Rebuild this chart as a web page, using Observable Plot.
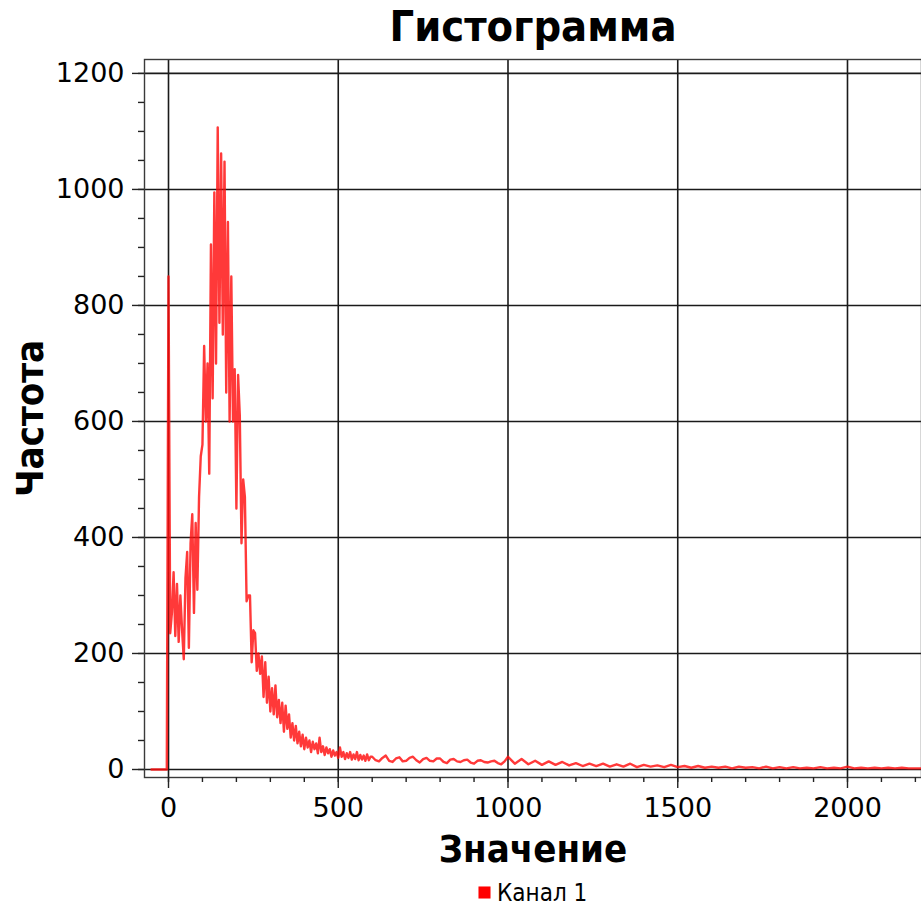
<!DOCTYPE html>
<html>
<head>
<meta charset="utf-8">
<script src="https://cdn.jsdelivr.net/npm/d3@7"></script>
<script src="https://cdn.jsdelivr.net/npm/@observablehq/plot@0.6"></script>
<style>
  html, body { margin: 0; padding: 0; background: #fff; }
  #chart svg { display: block; }
  .cond { font-stretch: condensed; }
</style>
</head>
<body>
<div id="chart"></div>
<script>
// ---- data ----
const title = "Гистограмма";
const xLabel = "Значение";
const yLabel = "Частота";
const seriesName = "Канал 1";

const xTicks = [0, 500, 1000, 1500, 2000];
const yTicks = [0, 200, 400, 600, 800, 1000, 1200];

// bins of width 5 starting at -50
const startA = -50, stepA = 5;
const countsA = [
  0,0,0,0,0,0,0,0,0,0,
  850,235,270,340,230,320,220,300,240,190,330,375,210,390,440,270,425,310,470,540,
  560,730,600,700,510,905,640,995,700,1107,770,1062,750,1048,650,944,600,850,600,690,
  450,680,610,390,500,470,290,300,300,185,240,235,170,200,165,195,125,185,115,160,
  100,140,95,145,90,120,80,115,65,110,70,95,55,80,50,75,45,65,40,60,
  35,55,38,50,30,48,35,45,28,55,30,40,25,38,28,35,22,33,24,30,
  20,38,22,30,18,28,20,30,17,26,18,30,16,25,17,24,15,26,16,22
];
// bins of width 10 starting at 600
const startB = 600, stepB = 10;
const countsB = [
  22,16,14,20,24,15,13,19,21,14,
  15,20,22,16,12,18,20,15,14,19,
  19,13,11,17,18,14,13,16,17,12,
  10,15,16,13,12,14,15,11,9,14
];
// bins of width 20 starting at 1000
const startC = 1000, stepC = 20;
const countsC = [
  22,10,18,9,15,8,14,8,13,7,
  11,6,10,6,10,5,9,5,10,4,
  8,5,7,4,8,4,6,3,6,3,
  5,3,5,2,5,3,4,2,5,2,
  4,2,4,2,3,2,4,2,3,2,
  5,2,3,2,3,2,3,2,3,2,
  2,2
];

const data = countsA.map((c, i) => ({x: startA + i * stepA, y: c}))
  .concat(countsB.map((c, i) => ({x: startB + i * stepB, y: c})))
  .concat(countsC.map((c, i) => ({x: startC + i * stepC, y: c})));

const xMinor = d3.range(0, 2201, 100);
const yMinor = d3.range(0, 1201, 50);

const W = 921, H = 908;
const condFont = "'DejaVu Sans Condensed', 'DejaVu Sans', sans-serif";
const tickFont = "'DejaVu Sans', sans-serif";
const fmt = d => String(d);

const chart = Plot.plot({
  width: W,
  height: H,
  marginLeft: 144,
  marginRight: 0,
  marginTop: 59,
  marginBottom: H - 777,
  style: {fontFamily: tickFont, background: "#fff", color: "#000"},
  x: {domain: [-70.7, 2218], label: null},
  y: {domain: [-13.8, 1224], label: null},
  marks: [
    Plot.gridX(xTicks, {stroke: "#1a1a1a", strokeOpacity: 1, strokeWidth: 1.6}),
    Plot.gridY(yTicks, {stroke: "#1a1a1a", strokeOpacity: 1, strokeWidth: 1.6}),
    Plot.frame({stroke: "#3a3a3a", strokeWidth: 1.4}),
    Plot.axisY(yTicks, {tickSize: 12, tickPadding: 8, fontSize: 27, fontFamily: tickFont, tickFormat: fmt, stroke: "#222", strokeWidth: 1.4, label: null}),
    Plot.axisY(yMinor, {tickSize: 6, text: null, stroke: "#222", strokeWidth: 1.4, label: null}),
    Plot.axisX(xTicks, {tickSize: 11, tickPadding: 9, fontSize: 27, fontFamily: tickFont, tickFormat: fmt, stroke: "#222", strokeWidth: 1.4, label: null}),
    Plot.axisX(xMinor, {tickSize: 5, text: null, stroke: "#222", strokeWidth: 1.4, label: null}),
    Plot.line(data, {x: "x", y: "y", stroke: "#ff0d0d", strokeWidth: 2.4, strokeOpacity: 0.82, clip: true}),
    Plot.text([title], {frameAnchor: "top", dy: -32, lineAnchor: "middle", fontSize: 43, fontWeight: "bold", fontFamily: condFont, className: "cond", fill: "#000"}),
    Plot.text([xLabel], {frameAnchor: "bottom", dy: 72, lineAnchor: "middle", fontSize: 38, fontWeight: "bold", fontFamily: condFont, className: "cond", fill: "#000"}),
    Plot.text([yLabel], {frameAnchor: "left", dx: -114, rotate: -90, textAnchor: "middle", lineAnchor: "middle", fontSize: 38, fontWeight: "bold", fontFamily: condFont, className: "cond", fill: "#000"}),
    Plot.dot([seriesName], {frameAnchor: "bottom", dx: -48.5, dy: 115, symbol: "square", r: 6.8, fill: "#ff0000", stroke: "none"}),
    Plot.text([seriesName], {frameAnchor: "bottom", dx: -36, dy: 116, textAnchor: "start", lineAnchor: "middle", fontSize: 24, fontFamily: condFont, className: "cond", fill: "#000"})
  ]
});
document.getElementById("chart").appendChild(chart);
</script>
</body>
</html>
